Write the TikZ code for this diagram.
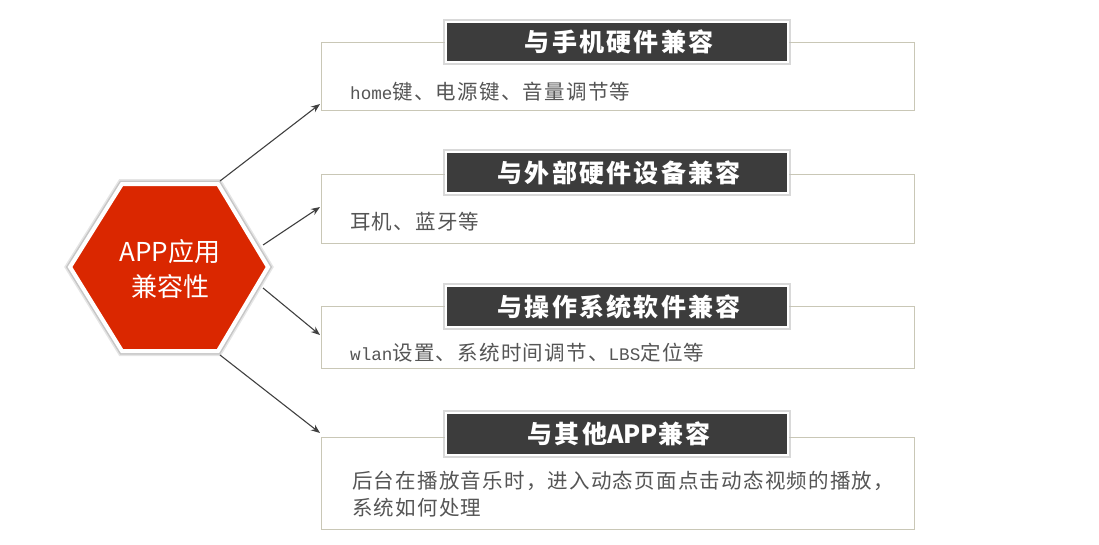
\documentclass[tikz,border=0pt]{standalone}
\usepackage{fontspec}
\setmainfont{Noto Sans CJK SC}
\newfontfamily\bodyfont[LetterSpace=6]{Noto Sans CJK SC}
\newfontfamily\headfont[LetterSpace=9]{Noto Sans CJK SC}
\newfontfamily\plainfont{Noto Sans CJK SC}
\newfontfamily\latmono[Scale=0.86]{Liberation Mono}
\newcommand{\lat}[1]{{\latmono #1}}
\newcommand{\tight}[1]{{\plainfont\bfseries #1}}
\usetikzlibrary{arrows.meta}
\definecolor{hexred}{HTML}{DA2700}
\definecolor{darkbox}{HTML}{3C3C3C}
\definecolor{boxline}{HTML}{C9C7B6}
\definecolor{bodytext}{HTML}{555555}
\definecolor{arrowcol}{HTML}{404040}
\tikzset{
  infobox/.style={draw=boxline, line width=1pt, fill=white},
  titleshadow/.style={draw=black!25, line width=6pt, opacity=0.6},
  titlebox/.style={draw=white, line width=2.5pt, fill=darkbox},
  titletext/.style={text=white, font=\headfont\fontsize{25}{28}\selectfont\bfseries, inner sep=0pt},
  bodytxt/.style={text=bodytext, font=\bodyfont\fontsize{20.5}{27}\selectfont, inner sep=0pt, anchor=west, align=left},
  conn/.style={draw=arrowcol, line width=1.1pt, -{Stealth[length=9pt,width=7pt]}},
}
\begin{document}
\begin{tikzpicture}[x=1pt, y=-1pt]
\useasboundingbox (0,0) rectangle (1099,544);
% hexagon
\coordinate (hL) at (70,267);
\coordinate (hTL) at (122,184);
\coordinate (hTR) at (218,184);
\coordinate (hR) at (268,267);
\coordinate (hBR) at (218,351);
\coordinate (hBL) at (122,351);
\draw[black!20, line width=10pt, opacity=0.5, line join=miter] (hL) -- (hTL) -- (hTR) -- (hR) -- (hBR) -- (hBL) -- cycle;
\draw[black!30, line width=7pt, opacity=0.6, line join=miter] (hL) -- (hTL) -- (hTR) -- (hR) -- (hBR) -- (hBL) -- cycle;
\draw[white, line width=4pt, fill=hexred, line join=miter] (hL) -- (hTL) -- (hTR) -- (hR) -- (hBR) -- (hBL) -- cycle;
\node[text=white, font=\fontsize{26}{35}\selectfont, align=center, inner sep=0pt] (hex) at (170,269) {APP应用\\兼容性};
% arrow start points on hexagon
\coordinate (s1) at (220,181);
\coordinate (s2) at (263,245);
\coordinate (s3) at (263,288);
\coordinate (s4) at (220,355);
% info boxes
\draw[infobox] (321,42) rectangle (914,110);
\draw[infobox] (321,174) rectangle (914,243);
\draw[infobox] (321,306) rectangle (914,368);
\draw[infobox] (321,437) rectangle (914,529);
\coordinate (e1) at (320,104);
\coordinate (e2) at (320,207);
\coordinate (e3) at (320,335);
\coordinate (e4) at (320,433);
% title boxes
\foreach \yt/\yb in {22/62, 152/193, 286/327, 413/455}{
  \draw[titleshadow] (446,\yt) rectangle (788,\yb);
  \draw[titlebox] (446,\yt) rectangle (788,\yb);
}
\node[titletext] (t1) at (619,42) {与手机硬件兼容};
\node[titletext] (t2) at (619,172.5) {与外部硬件设备兼容};
\node[titletext] (t3) at (619,306.5) {与操作系统软件兼容};
\node[titletext] (t4) at (619,434) {与其他\tight{APP}兼容};
% body texts
\node[bodytxt] (b1) at (350,92) {\lat{home}键、电源键、音量调节等};
\node[bodytxt] (b2) at (350,222) {耳机、蓝牙等};
\node[bodytxt] (b3) at (350,353) {\lat{wlan}设置、系统时间调节、\lat{LBS}定位等};
\node[bodytxt] (b4) at (352,494.5) {后台在播放音乐时，进入动态页面点击动态视频的播放，\\系统如何处理};
% connectors
\draw[conn] (s1) -- (e1);
\draw[conn] (s2) -- (e2);
\draw[conn] (s3) -- (e3);
\draw[conn] (s4) -- (e4);
\end{tikzpicture}
\end{document}
